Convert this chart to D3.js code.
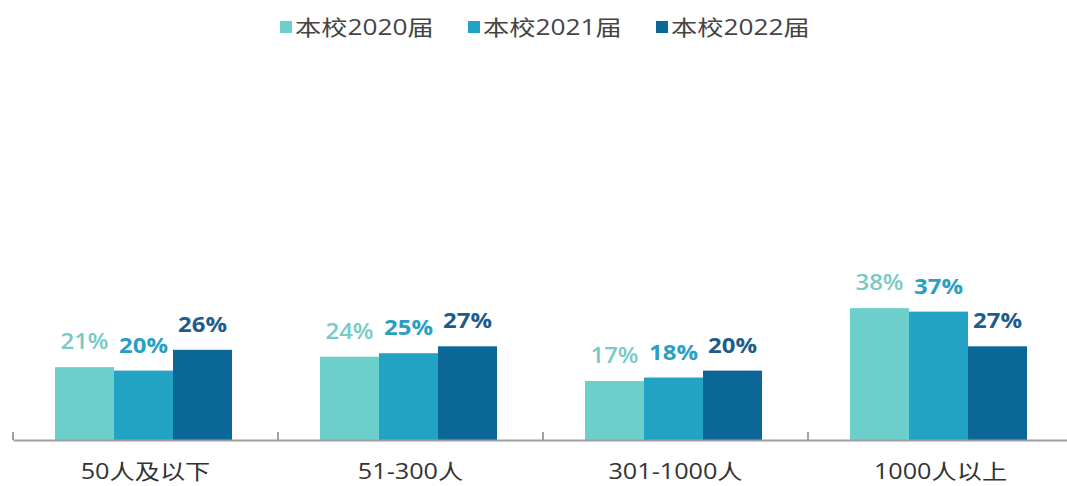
<!DOCTYPE html>
<html><head><meta charset="utf-8">
<script src="https://cdn.jsdelivr.net/npm/d3@7"></script>
<style>
html,body{margin:0;padding:0;background:#fff;}
svg{display:block;font-family:"Open Sans","Noto Sans CJK SC",sans-serif;}
</style></head>
<body>
<svg id="chart" width="1067" height="486"></svg>
<script>
const categories = ["50人及以下", "51-300人", "301-1000人", "1000人以上"];
const seriesNames = ["本校2020届", "本校2021届", "本校2022届"];
const values2020 = [21, 24, 17, 38];
const values2021 = [20, 25, 18, 37];
const values2022 = [26, 27, 20, 27];
const seriesValues = [values2020, values2021, values2022];
const colors = ["#6dcfcb", "#22a3c4", "#0b6797"];
const labelColors = ["#74cbc7", "#2a9fc2", "#1d5c8c"];
const labelWeights = ["600", "bold", "bold"];

const svg = d3.select("#chart");
const baseY = 440;
const x0 = d3.scaleBand().domain(categories).range([13, 1073]).paddingInner(0).paddingOuter(0);
const x1 = d3.scaleBand().domain(seriesNames).range([42, 219]).padding(0);
const y = d3.scaleLinear().domain([0, 100]).range([baseY, baseY - 347]);

function stretchText(sel, x, yy, sx) {
  return sel.attr("transform", `translate(${x},${yy}) scale(${sx},1)`);
}

// bars
categories.forEach((c, ci) => {
  const g = svg.append("g").attr("transform", `translate(${x0(c)},0)`);
  seriesNames.forEach((s, si) => {
    const v = seriesValues[si][ci];
    g.append("rect")
      .attr("x", x1(s)).attr("width", x1.bandwidth())
      .attr("y", y(v)).attr("height", y(0) - y(v))
      .attr("fill", colors[si]);
    stretchText(g.append("text"), x1(s) + x1.bandwidth() / 2, y(v) - 18, 1.14)
      .attr("text-anchor", "middle")
      .attr("font-size", 21)
      .attr("font-weight", labelWeights[si])
      .attr("fill", labelColors[si])
      .text(v + "%");
  });
});

// axis
const axis = d3.axisBottom(x0).tickSize(0).tickSizeOuter(0).tickFormat("");
const ag = svg.append("g").attr("transform", `translate(0,${baseY})`).call(axis);
ag.select(".domain").attr("stroke", "#a0a0a0").attr("stroke-width", 2);
ag.selectAll(".tick").remove();
const edges = categories.map(c => x0(c));
ag.selectAll("line.edge").data(edges).enter().append("line")
  .attr("class", "edge")
  .attr("x1", d => d).attr("x2", d => d)
  .attr("y1", 0).attr("y2", -8)
  .attr("stroke", "#a0a0a0").attr("stroke-width", 2);

// category labels
svg.append("g").selectAll("text").data(categories).enter().append("text")
  .each(function(d) { stretchText(d3.select(this), x0(d) + x0.bandwidth() / 2, 479, 1.2); })
  .attr("text-anchor", "middle")
  .attr("font-size", 21)
  .attr("fill", "#333")
  .text(d => d);

// legend
const legendX = [280, 468, 656];
const lg = svg.append("g");
seriesNames.forEach((s, i) => {
  lg.append("rect").attr("x", legendX[i]).attr("y", 21).attr("width", 12).attr("height", 12).attr("fill", colors[i]);
  stretchText(lg.append("text"), legendX[i] + 15, 35, 1.25)
    .attr("font-size", 21).attr("fill", "#444").text(s);
});
</script>
</body></html>
